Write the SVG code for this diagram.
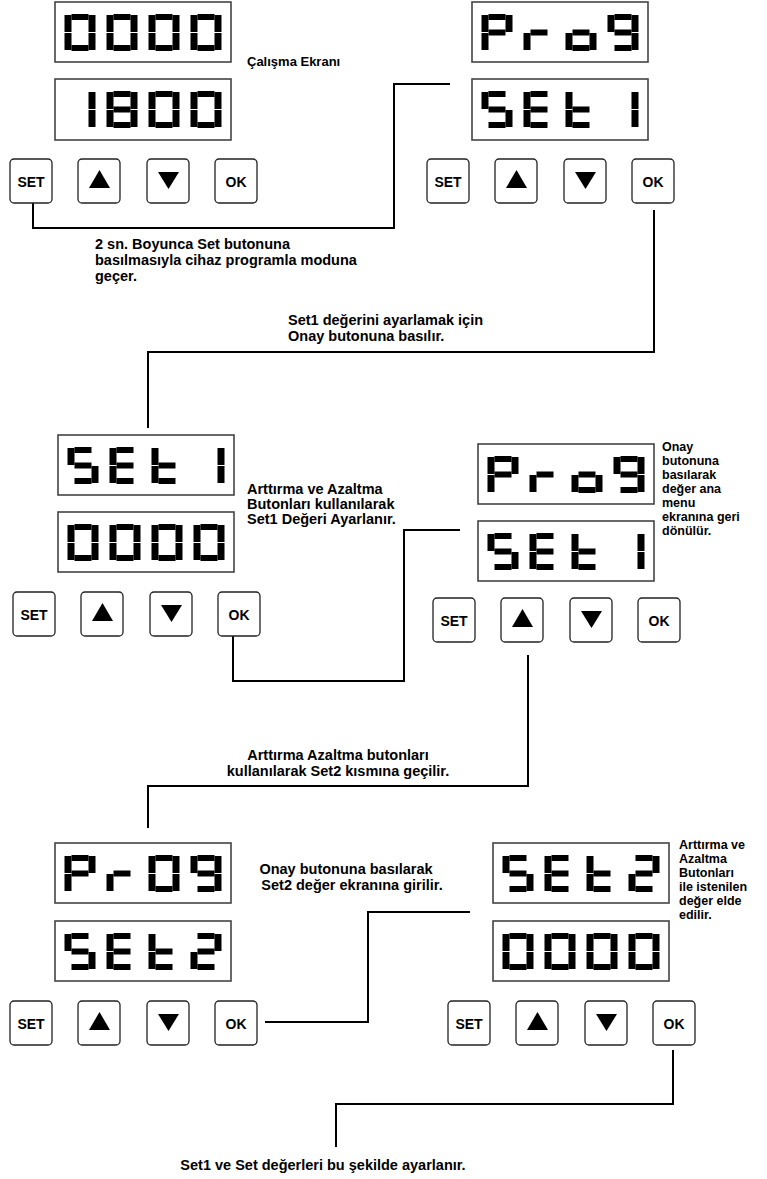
<svg xmlns="http://www.w3.org/2000/svg" xmlns:xlink="http://www.w3.org/1999/xlink" width="767" height="1179" viewBox="0 0 767 1179">
<style>
.bg{fill:#fff}
.disp{fill:#fff;stroke:#444;stroke-width:1.6}
.btn{fill:#fff;stroke:#222;stroke-width:1.3}
.seg{fill:#000}
.tri{fill:#000}
.bt{font-family:"Liberation Sans",Arial,sans-serif;font-weight:bold;font-size:14px;fill:#000;text-anchor:middle}
.lbl{font-family:"Liberation Sans",Arial,sans-serif;font-weight:bold;font-size:14.5px;fill:#000}
.sm{font-size:12.5px}
.mid{text-anchor:middle}
.wire{fill:none;stroke:#000;stroke-width:2}
</style>
<defs>
<rect id="sa" class="seg" x="7" y="0" width="17" height="6"/>
<rect id="sb" class="seg" x="24" y="1" width="7" height="17"/>
<rect id="sc" class="seg" x="24" y="19" width="7" height="17"/>
<rect id="sd" class="seg" x="7" y="31" width="17" height="6"/>
<rect id="se" class="seg" x="0" y="19" width="7" height="17"/>
<rect id="sf" class="seg" x="0" y="1" width="7" height="17"/>
<rect id="sg" class="seg" x="7" y="15.5" width="17" height="6"/>
<g id="d0"><use href="#sa"/><use href="#sb"/><use href="#sc"/><use href="#sd"/><use href="#se"/><use href="#sf"/></g>
<g id="d1"><use href="#sb"/><use href="#sc"/></g>
<g id="d8"><use href="#sa"/><use href="#sb"/><use href="#sc"/><use href="#sd"/><use href="#se"/><use href="#sf"/><use href="#sg"/></g>
<g id="d9"><use href="#sa"/><use href="#sb"/><use href="#sc"/><use href="#sd"/><use href="#sf"/><use href="#sg"/></g>
<g id="d2"><use href="#sa"/><use href="#sb"/><use href="#sg"/><use href="#se"/><use href="#sd"/></g>
<g id="dP"><use href="#sa"/><use href="#sb"/><use href="#se"/><use href="#sf"/><use href="#sg"/></g>
<g id="dr"><use href="#se"/><use href="#sg"/></g>
<g id="do"><use href="#sc"/><use href="#sd"/><use href="#se"/><use href="#sg"/></g>
<g id="dS"><use href="#sa"/><use href="#sf"/><use href="#sg"/><use href="#sc"/><use href="#sd"/></g>
<g id="dE"><use href="#sa"/><use href="#sf"/><use href="#sg"/><use href="#se"/><use href="#sd"/></g>
<g id="dt"><use href="#sf"/><use href="#se"/><use href="#sg"/><use href="#sd"/></g>
<g id="bSET"><rect class="btn" x="0" y="0" width="42" height="44" rx="4"/><text class="bt" x="21" y="27.5">SET</text></g>
<g id="bUP"><rect class="btn" x="0" y="0" width="42" height="44" rx="4"/><path class="tri" d="M11,29 L21.5,11 L32,29 Z"/></g>
<g id="bDN"><rect class="btn" x="0" y="0" width="42" height="44" rx="4"/><path class="tri" d="M11,13 L32,13 L21.5,30 Z"/></g>
<g id="bOK"><rect class="btn" x="0" y="0" width="42" height="44" rx="4"/><text class="bt" x="21" y="27.5">OK</text></g>
</defs>
<rect class="bg" x="0" y="0" width="767" height="1179"/>

<g id="connectors">
<path class="wire" d="M33,203 V228 H394 V84 H450"/>
<path class="wire" d="M654,210 V352 H148 V428"/>
<path class="wire" d="M233,636 V681 H404 V530 H460"/>
<path class="wire" d="M528,655 V786 H148 V828"/>
<path class="wire" d="M265,1022 H368 V912 H470"/>
<path class="wire" d="M673,1050 V1104 H336 V1147"/>
</g>

<!-- Panel A -->
<g id="A-display1"><rect class="disp" x="55" y="2" width="176" height="60"/>
<use href="#d0" x="64.5" y="14"/><use href="#d0" x="106.5" y="14"/><use href="#d0" x="148.5" y="14"/><use href="#d0" x="190.5" y="14"/></g>
<g id="A-display2"><rect class="disp" x="55" y="79" width="176" height="61"/>
<use href="#d1" x="64.5" y="91"/><use href="#d8" x="106.5" y="91"/><use href="#d0" x="148.5" y="91"/><use href="#d0" x="190.5" y="91"/></g>
<g id="A-set"><use href="#bSET" x="10" y="159"/></g>
<g id="A-up"><use href="#bUP" x="78" y="159"/></g>
<g id="A-down"><use href="#bDN" x="147" y="159"/></g>
<g id="A-ok"><use href="#bOK" x="215" y="159"/></g>

<!-- Panel B -->
<g id="B-display1"><rect class="disp" x="472" y="2" width="176" height="60"/>
<use href="#dP" x="481.5" y="14"/><use href="#dr" x="523.5" y="14"/><use href="#do" x="565.5" y="14"/><use href="#d9" x="607.5" y="14"/></g>
<g id="B-display2"><rect class="disp" x="472" y="79" width="176" height="61"/>
<use href="#dS" x="481.5" y="91"/><use href="#dE" x="523.5" y="91"/><use href="#dt" x="565.5" y="91"/><use href="#d1" x="607.5" y="91"/></g>
<g id="B-set"><use href="#bSET" x="427" y="159"/></g>
<g id="B-up"><use href="#bUP" x="495" y="159"/></g>
<g id="B-down"><use href="#bDN" x="564" y="159"/></g>
<g id="B-ok"><use href="#bOK" x="632" y="159"/></g>

<!-- Panel C -->
<g id="C-display1"><rect class="disp" x="58" y="435" width="176" height="60"/>
<use href="#dS" x="67.5" y="447"/><use href="#dE" x="109.5" y="447"/><use href="#dt" x="151.5" y="447"/><use href="#d1" x="193.5" y="447"/></g>
<g id="C-display2"><rect class="disp" x="58" y="512" width="176" height="60"/>
<use href="#d0" x="67.5" y="524"/><use href="#d0" x="109.5" y="524"/><use href="#d0" x="151.5" y="524"/><use href="#d0" x="193.5" y="524"/></g>
<g id="C-set"><use href="#bSET" x="13" y="592"/></g>
<g id="C-up"><use href="#bUP" x="81" y="592"/></g>
<g id="C-down"><use href="#bDN" x="150" y="592"/></g>
<g id="C-ok"><use href="#bOK" x="218" y="592"/></g>

<!-- Panel D -->
<g id="D-display1"><rect class="disp" x="478" y="444" width="176" height="60"/>
<use href="#dP" x="487.5" y="456"/><use href="#dr" x="529.5" y="456"/><use href="#do" x="571.5" y="456"/><use href="#d9" x="613.5" y="456"/></g>
<g id="D-display2"><rect class="disp" x="478" y="521" width="176" height="60"/>
<use href="#dS" x="487.5" y="533"/><use href="#dE" x="529.5" y="533"/><use href="#dt" x="571.5" y="533"/><use href="#d1" x="613.5" y="533"/></g>
<g id="D-set"><use href="#bSET" x="433" y="598"/></g>
<g id="D-up"><use href="#bUP" x="501" y="598"/></g>
<g id="D-down"><use href="#bDN" x="570" y="598"/></g>
<g id="D-ok"><use href="#bOK" x="638" y="598"/></g>

<!-- Panel E -->
<g id="E-display1"><rect class="disp" x="55" y="843" width="176" height="60"/>
<use href="#dP" x="64.5" y="855"/><use href="#dr" x="106.5" y="855"/><use href="#d0" x="148.5" y="855"/><use href="#d9" x="190.5" y="855"/></g>
<g id="E-display2"><rect class="disp" x="55" y="921" width="176" height="60"/>
<use href="#dS" x="64.5" y="933"/><use href="#dE" x="106.5" y="933"/><use href="#dt" x="148.5" y="933"/><use href="#d2" x="190.5" y="933"/></g>
<g id="E-set"><use href="#bSET" x="10" y="1001"/></g>
<g id="E-up"><use href="#bUP" x="78" y="1001"/></g>
<g id="E-down"><use href="#bDN" x="147" y="1001"/></g>
<g id="E-ok"><use href="#bOK" x="215" y="1001"/></g>

<!-- Panel F -->
<g id="F-display1"><rect class="disp" x="493" y="843" width="176" height="60"/>
<use href="#dS" x="502.5" y="855"/><use href="#dE" x="544.5" y="855"/><use href="#dt" x="586.5" y="855"/><use href="#d2" x="628.5" y="855"/></g>
<g id="F-display2"><rect class="disp" x="493" y="921" width="176" height="60"/>
<use href="#d0" x="502.5" y="933"/><use href="#d0" x="544.5" y="933"/><use href="#d0" x="586.5" y="933"/><use href="#d0" x="628.5" y="933"/></g>
<g id="F-set"><use href="#bSET" x="448" y="1001"/></g>
<g id="F-up"><use href="#bUP" x="516" y="1001"/></g>
<g id="F-down"><use href="#bDN" x="585" y="1001"/></g>
<g id="F-ok"><use href="#bOK" x="653" y="1001"/></g>

<!-- Labels -->
<g id="labels">
<text class="lbl" x="247" y="66" style="font-size:13px">Çalışma Ekranı</text>
<text class="lbl" x="95" y="249">2 sn. Boyunca Set butonuna</text>
<text class="lbl" x="95" y="265">basılmasıyla cihaz programla moduna</text>
<text class="lbl" x="95" y="281">geçer.</text>
<text class="lbl" x="288" y="325">Set1 değerini ayarlamak için</text>
<text class="lbl" x="288" y="341">Onay butonuna basılır.</text>
<text class="lbl" x="247" y="494">Arttırma ve Azaltma</text>
<text class="lbl" x="247" y="509">Butonları kullanılarak</text>
<text class="lbl" x="247" y="524">Set1 Değeri Ayarlanır.</text>
<text class="lbl sm" x="662" y="451">Onay</text>
<text class="lbl sm" x="662" y="465">butonuna</text>
<text class="lbl sm" x="662" y="479">basılarak</text>
<text class="lbl sm" x="662" y="493">değer ana</text>
<text class="lbl sm" x="662" y="507">menu</text>
<text class="lbl sm" x="662" y="521">ekranına geri</text>
<text class="lbl sm" x="662" y="535">dönülür.</text>
<text class="lbl mid" x="338" y="760">Arttırma Azaltma butonları</text>
<text class="lbl mid" x="338" y="776">kullanılarak Set2 kısmına geçilir.</text>
<text class="lbl mid" x="346" y="874">Onay butonuna basılarak</text>
<text class="lbl mid" x="352" y="890">Set2 değer ekranına girilir.</text>
<text class="lbl sm" x="679" y="849">Arttırma ve</text>
<text class="lbl sm" x="679" y="863">Azaltma</text>
<text class="lbl sm" x="679" y="877">Butonları</text>
<text class="lbl sm" x="679" y="891">ile istenilen</text>
<text class="lbl sm" x="679" y="905">değer elde</text>
<text class="lbl sm" x="679" y="919">edilir.</text>
<text class="lbl mid" x="323" y="1170">Set1 ve Set değerleri bu şekilde ayarlanır.</text>
</g>
</svg>
